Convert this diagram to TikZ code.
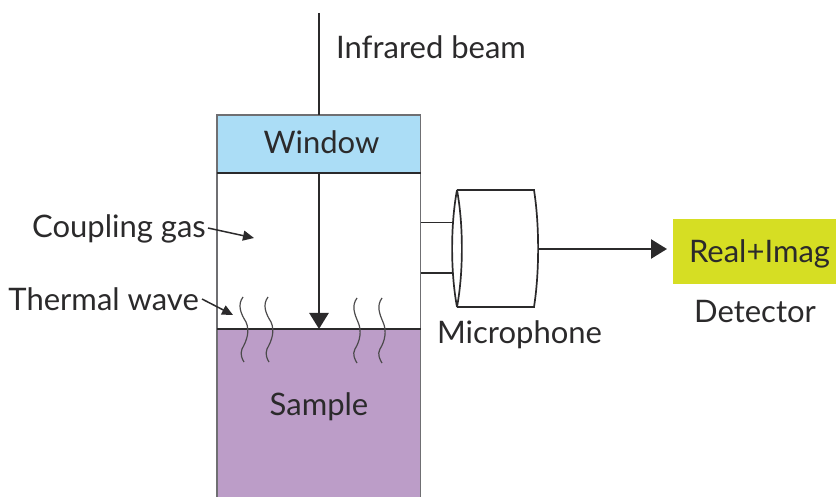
\documentclass[tikz,border=0pt]{standalone}
\usepackage{fontspec}
\setmainfont{Lato}
\usetikzlibrary{arrows.meta}
\definecolor{inkc}{HTML}{2B2A2B}
\definecolor{winc}{HTML}{ABDDF6}
\definecolor{samc}{HTML}{BC9DC8}
\definecolor{detc}{HTML}{D6DE23}
\definecolor{wallc}{HTML}{6F6F72}
\tikzset{
  lbl/.style={inner sep=0pt,text=inkc,font=\fontsize{31}{36}\selectfont},
  wall/.style={draw=wallc,line width=1.8pt},
  mic/.style={draw=inkc,line width=1.7pt},
  wavy/.style={draw=inkc!85,line width=1.2pt},
  thin arrow/.style={draw=inkc,line width=1.5pt,-{Triangle[length=11pt,width=10pt]}},
  big arrow/.style={draw=inkc,line width=2.5pt,-{Triangle[length=16pt,width=19pt]}},
}
\begin{document}
\begin{tikzpicture}[x=1pt,y=-1pt]
\useasboundingbox (0,0) rectangle (836,497);
% boxes
\path[fill=samc] (217,329) rectangle (420.5,497);
\path[fill=winc] (217,115) rectangle (420.5,173);
\draw[wall] (217,497) -- (217,115) -- (420.5,115) -- (420.5,497);
\draw[draw=inkc,line width=1.4pt] (217,173) -- (420.5,173);
\draw[draw=inkc,line width=1.7pt] (217,329) -- (420.5,329);
\node[fill=detc,inner sep=0pt,minimum width=163pt,minimum height=65pt] (detbox) at (754.5,251.5) {};
% nodes
\node[lbl,anchor=base west] (beamlabel) at (336,59) {Infrared beam};
\node[lbl,anchor=base] (window) at (321.5,154) {Window};
\node[lbl,anchor=base] (sample) at (319,415) {Sample};
\node[lbl,anchor=base east] (gas) at (206,238) {Coupling gas};
\node[lbl,anchor=base east] (thermal) at (199,311) {Thermal wave};
\node[lbl,anchor=base] (micl) at (519.5,343) {Microphone};
\node[lbl,anchor=base] (detl) at (755,323) {Detector};
\node[lbl,anchor=base] (real) at (759.5,263) {Real+Imag};
\coordinate (beamtop) at (319,13);
\coordinate (beammid) at (319,115);
\coordinate (beamstart) at (319,173);
\coordinate (beamend) at (319,329);
\coordinate (gasstart) at (208,228);
\coordinate (gasend) at (254,238);
\coordinate (thermalstart) at (202,299);
\coordinate (thermalend) at (233,315);
\coordinate (micout) at (538.5,249);
\coordinate (detin) at (667,249);
% microphone
\draw[mic] (420.5,222.5) -- (452.5,222.5);
\draw[mic] (420.5,273) -- (452.5,273);
\draw[mic] (457,190) -- (534,190) .. controls (539.5,225) and (539.5,272) .. (534,307) -- (457,307);
\draw[mic] (457,190) .. controls (450.5,225) and (450.5,272) .. (457,307);
\draw[mic] (457,190) .. controls (463.5,225) and (463.5,272) .. (457,307);
% connectors
\draw[draw=inkc,line width=2pt] (beamtop) -- (beammid);
\draw[big arrow] (beamstart) -- (beamend);
\draw[big arrow] (micout) -- (detin);
\draw[thin arrow] (gasstart) -- (gasend);
\draw[thin arrow] (thermalstart) -- (thermalend);
% thermal waves
\foreach \x in {243,268}{
  \draw[wavy] (\x,297) .. controls (\x-6,305) and (\x-2,314) .. (\x+3,322)
     .. controls (\x+7,331) and (\x+4,340) .. (\x-1,349)
     .. controls (\x-3,354) and (\x-1,359) .. (\x+1,362);
}
\foreach \x in {357,382}{
  \draw[wavy] (\x,298) .. controls (\x-6,306) and (\x-2,315) .. (\x+1,322)
     .. controls (\x+5,331) and (\x+3,341) .. (\x-2,349)
     .. controls (\x-5,354) and (\x-2,360) .. (\x,363);
}
\end{tikzpicture}
\end{document}
